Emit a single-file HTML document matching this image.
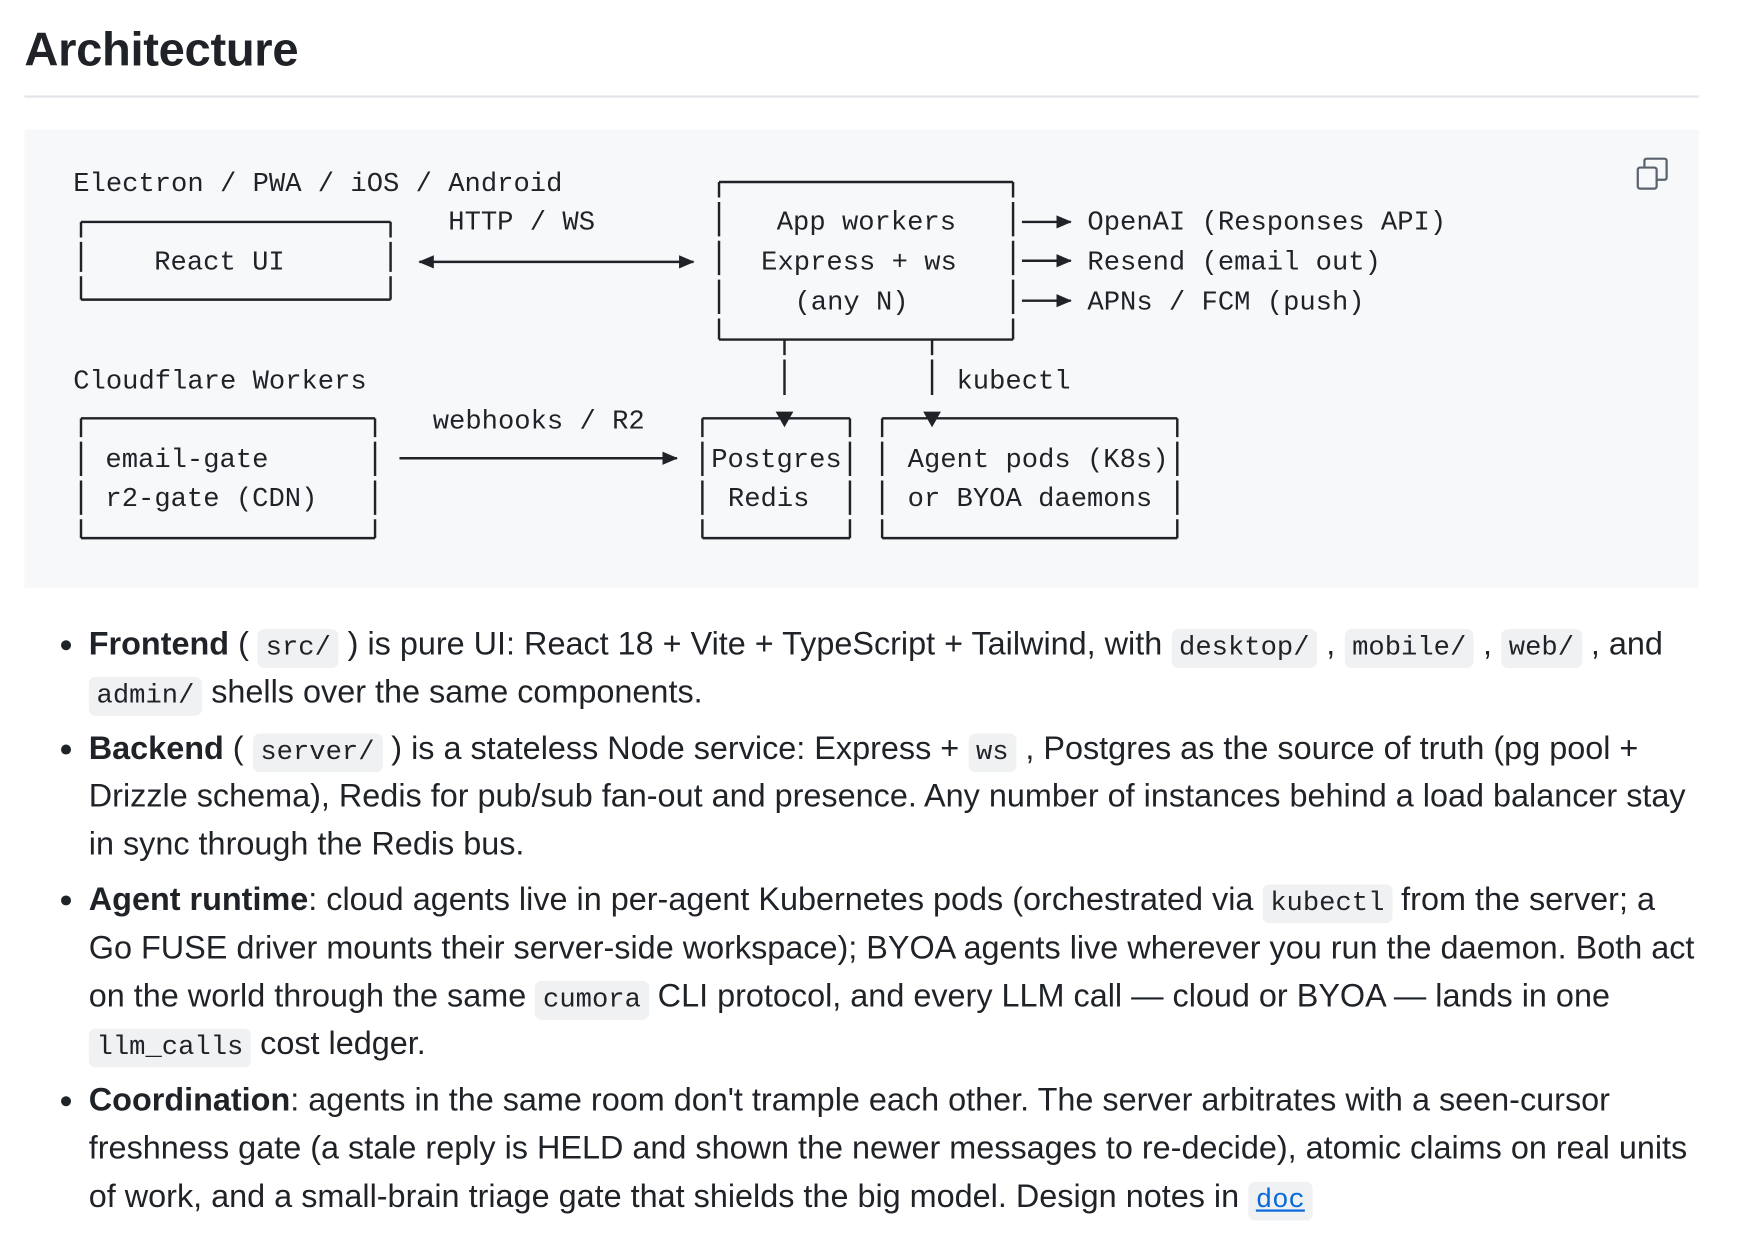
<!DOCTYPE html>
<html><head><meta charset="utf-8"><style>
html,body{margin:0;padding:0;background:#fff;width:1740px;height:1246px;overflow:hidden}
#w{position:absolute;left:0;top:0;width:1568px;height:1123px;transform:scale(1.1096);transform-origin:0 0;color:#1f2328;font-family:"Liberation Sans",sans-serif}
.t{position:absolute;left:22px;top:18px;font-size:42.5px;font-weight:bold;line-height:56px;letter-spacing:-0.3px}
.hr{position:absolute;left:22px;top:86px;width:1509px;height:2px;background:#e1e4e8}
.cb{position:absolute;left:22px;top:117px;width:1509px;height:413px;background:#f6f8fa}
svg{position:absolute;left:0;top:0}
.m{font-family:"Liberation Mono",monospace;font-size:24.5px;fill:#1f2328}
.l{position:absolute;left:80px;font-size:29.2px;line-height:43px;white-space:nowrap;height:43px}
.d{position:absolute;left:55px;width:9px;height:9px;border-radius:50%;background:#1f2328}
code{font-family:"Liberation Mono",monospace;font-size:24.5px;background:#eff1f3;border-radius:6px;padding:4px 7px}
b{font-weight:bold}
a{color:#0969da;text-decoration:underline}
</style></head><body><div id="w">
<div class="t">Architecture</div>
<div class="hr"></div>
<div class="cb"></div>
<svg width="1560" height="560" viewBox="0 0 1560 560">
<defs>
<marker id="a" markerWidth="14" markerHeight="14" refX="13" refY="7" orient="auto" markerUnits="userSpaceOnUse"><path d="M0,1 L14,7 L0,13 z" fill="#1f2328"/></marker>
<marker id="b" markerWidth="14" markerHeight="14" refX="1" refY="7" orient="auto" markerUnits="userSpaceOnUse"><path d="M14,1 L0,7 L14,13 z" fill="#1f2328"/></marker>
</defs>
<g stroke="#1f2328" stroke-width="2.2" fill="none">
<path d="M73,200 H352 M73,270 H352"/>
<path d="M73,200 V270 M352,200 V270" stroke-dasharray="14 4 27 4 27 4"/>
<path d="M648,164 H913 M648,306 H913"/>
<path d="M648,164 V306 M913,164 V306" stroke-dasharray="14 4 31 4 31 4 31 4 31"/>
<path d="M73,377 H338 M73,485 H338"/>
<path d="M73,377 V485 M338,377 V485" stroke-dasharray="17 4 31 4 31 4 31"/>
<path d="M633,377 H766 M633,485 H766"/>
<path d="M633,377 V485 M766,377 V485" stroke-dasharray="17 4 31 4 31 4 31"/>
<path d="M795,377 H1061 M795,485 H1061"/>
<path d="M795,377 V485 M1061,377 V485" stroke-dasharray="17 4 31 4 31 4 31"/>
<path d="M707,306 V356 M840,306 V356" stroke-dasharray="14 4 32"/>
<path d="M378,236 H625" marker-end="url(#a)" marker-start="url(#b)"/>
<path d="M360,413 H610" marker-end="url(#a)"/>
<path d="M921,200 H965" marker-end="url(#a)"/>
<path d="M921,235 H965" marker-end="url(#a)"/>
<path d="M921,271 H965" marker-end="url(#a)"/>
</g>
<path d="M699,371 L715,371 L707,385 z M832,371 L848,371 L840,385 z" fill="#1f2328"/>
<text class="m" x="66" y="172">Electron / PWA / iOS / Android</text>
<text class="m" x="404" y="207">HTTP / WS</text>
<text class="m" x="139" y="243">React UI</text>
<text class="m" x="700" y="207">App workers</text>
<text class="m" x="686" y="243">Express + ws</text>
<text class="m" x="716" y="279">(any N)</text>
<text class="m" x="980" y="207">OpenAI (Responses API)</text>
<text class="m" x="980" y="243">Resend (email out)</text>
<text class="m" x="980" y="279">APNs / FCM (push)</text>
<text class="m" x="66" y="350">Cloudflare Workers</text>
<text class="m" x="862" y="350">kubectl</text>
<text class="m" x="390" y="386">webhooks / R2</text>
<text class="m" x="95" y="421">email-gate</text>
<text class="m" x="95" y="456">r2-gate (CDN)</text>
<text class="m" x="641" y="421">Postgres</text>
<text class="m" x="656" y="456">Redis</text>
<text class="m" x="818" y="421">Agent pods (K8s)</text>
<text class="m" x="818" y="456">or BYOA daemons</text>
<g fill="none" stroke="#59636e" stroke-width="2"><rect x="1476" y="151" width="17" height="19" rx="2"/><path d="M1482,151 V145 Q1482,143 1484,143 H1500 Q1502,143 1502,145 V160 Q1502,162 1500,162 H1493"/></g>
</svg>
<div class="d" style="top:577px"></div>
<div class="l" style="top:560px"><b>Frontend</b> ( <code>src/</code> ) is pure UI: React 18 + Vite + TypeScript + Tailwind, with <code>desktop/</code> , <code>mobile/</code> , <code>web/</code> , and</div>
<div class="l" style="top:603px"><code>admin/</code> shells over the same components.</div>
<div class="d" style="top:671px"></div>
<div class="l" style="top:654px"><b>Backend</b> ( <code>server/</code> ) is a stateless Node service: Express + <code>ws</code> , Postgres as the source of truth (pg pool +</div>
<div class="l" style="top:697px">Drizzle schema), Redis for pub/sub fan-out and presence. Any number of instances behind a load balancer stay</div>
<div class="l" style="top:740px">in sync through the Redis bus.</div>
<div class="d" style="top:807px"></div>
<div class="l" style="top:790px"><b>Agent runtime</b>: cloud agents live in per-agent Kubernetes pods (orchestrated via <code>kubectl</code> from the server; a</div>
<div class="l" style="top:834px">Go FUSE driver mounts their server-side workspace); BYOA agents live wherever you run the daemon. Both act</div>
<div class="l" style="top:877px">on the world through the same <code>cumora</code> CLI protocol, and every LLM call — cloud or BYOA — lands in one</div>
<div class="l" style="top:920px"><code>llm_calls</code> cost ledger.</div>
<div class="d" style="top:988px"></div>
<div class="l" style="top:971px"><b>Coordination</b>: agents in the same room don't trample each other. The server arbitrates with a seen-cursor</div>
<div class="l" style="top:1014px">freshness gate (a stale reply is HELD and shown the newer messages to re-decide), atomic claims on real units</div>
<div class="l" style="top:1058px">of work, and a small-brain triage gate that shields the big model. Design notes in <a><code style="color:#0969da">doc</code></a></div>
</div></body></html>
